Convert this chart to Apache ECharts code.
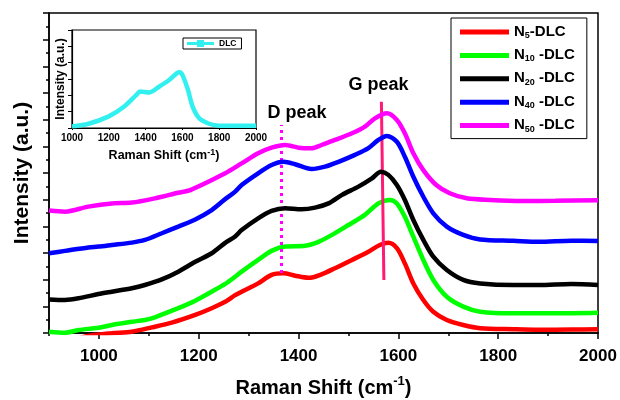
<!DOCTYPE html>
<html>
<head>
<meta charset="utf-8">
<script src="https://cdn.jsdelivr.net/npm/echarts@6/dist/echarts.min.js"></script>
<style>
  html, body { margin: 0; padding: 0; background: #fff; }
  #chart { width: 620px; height: 400px; }
</style>
</head>
<body>
<div id="chart"></div>
<script>
const FONT = '"Liberation Sans", Arial, Helvetica, sans-serif';

// Raman spectra, [shift (cm-1), intensity (a.u.)], curves stacked with offsets
const seriesNames = ['N5-DLC', 'N10-DLC', 'N20-DLC', 'N40-DLC', 'N50-DLC'];
const subscripts = ['5', '10', '20', '40', '50'];
const colors = ['#ff0000', '#00ff00', '#000000', '#0000ff', '#ff00ff'];

const n5 = [[900,-40],[940,-28],[979,-11],[1026,-1],[1066,5],[1106,21],[1146,39],[1193,68],[1226,93],[1253,117],[1273,142],[1286,155],[1319,186],[1346,218],[1370,224],[1393,215],[1420,207],[1446,220],[1473,243],[1507,274],[1540,305],[1563,330],[1580,338],[1597,318],[1613,261],[1630,186],[1650,124],[1670,80],[1697,49],[1730,30],[1764,18],[1830,14],[1881,12],[1947,13],[2000,14]];
const n10 = [[900,5],[932,1],[959,11],[999,20],[1026,30],[1066,42],[1092,49],[1112,59],[1159,93],[1193,121],[1226,155],[1253,184],[1273,211],[1286,230],[1319,274],[1346,308],[1373,324],[1413,327],[1440,342],[1467,368],[1500,405],[1533,443],[1560,486],[1583,499],[1597,486],[1613,436],[1630,361],[1650,274],[1670,199],[1697,136],[1730,99],[1764,80],[1830,74],[1914,74],[2000,76]];
const n20 = [[900,126],[932,124],[959,130],[999,146],[1026,155],[1066,168],[1092,180],[1126,201],[1159,230],[1193,267],[1226,299],[1253,338],[1273,362],[1286,386],[1319,430],[1346,458],[1373,468],[1406,464],[1433,470],[1460,486],[1487,518],[1520,549],[1547,580],[1565,605],[1580,593],[1597,555],[1613,499],[1630,424],[1650,349],[1670,286],[1697,236],[1730,199],[1764,186],[1830,180],[1881,180],[1947,184],[2000,180]];
const n40 = [[900,299],[932,308],[979,321],[999,324],[1026,330],[1066,339],[1092,349],[1126,374],[1159,399],[1193,426],[1226,461],[1253,502],[1273,530],[1286,555],[1319,599],[1346,630],[1370,642],[1393,633],[1426,615],[1453,624],[1480,642],[1513,668],[1540,693],[1560,724],[1577,739],[1597,717],[1613,661],[1630,586],[1650,511],[1670,449],[1697,399],[1730,368],[1764,351],[1830,346],[1881,342],[1947,346],[2000,345]];
const n50 = [[900,459],[932,455],[979,474],[1026,486],[1066,489],[1112,505],[1159,526],[1183,536],[1253,599],[1286,636],[1319,674],[1346,695],[1373,705],[1400,695],[1426,693],[1446,705],[1473,724],[1507,749],[1533,774],[1553,805],[1577,824],[1597,799],[1613,749],[1630,674],[1650,611],[1676,555],[1703,524],[1737,505],[1784,499],[1847,495],[1914,496],[2000,498]];
const spectra = [n5, n10, n20, n40, n50];

// Inset: undoped DLC spectrum
const insetName = 'DLC';
const insetDLC = [[1000,0.10],[1090,0.26],[1200,0.71],[1280,1.28],[1350,2.03],[1370,2.24],[1420,2.18],[1475,2.54],[1530,2.95],[1570,3.36],[1585,3.42],[1600,3.25],[1630,2.34],[1655,1.32],[1690,0.61],[1745,0.26],[1800,0.14],[2000,0.14]];

// Peak markers
const dPeakLine = [[1366,225],[1366,780]];
const gPeakLine = [[1566,867],[1571,199]];
const peakLabels = [{ name: 'D peak', coord: [1397,825] }, { name: 'G peak', coord: [1560,930] }];

// Axis ticks
const xMinorTicks = [900,1000,1100,1200,1300,1400,1500,1600,1700,1800,1900,2000];
const xTickLabels = [1000,1200,1400,1600,1800,2000];
const insetXTickLabels = [1000,1200,1400,1600,1800,2000];

const chart = echarts.init(document.getElementById('chart'), null, { renderer: 'canvas' });

const bold = { fontFamily: FONT, fontWeight: 'bold', color: '#000' };
const axisLine = { show: true, lineStyle: { color: '#000', width: 1.5 } };
const plainNumber = v => String(v);

function legendText(name) {
  const i = seriesNames.indexOf(name);
  const sub = subscripts[i];
  return '{n|N}{s|' + sub + '}{n|' + (sub.length > 1 ? ' -DLC' : '-DLC') + '}';
}

const lineSeries = spectra.map((d, i) => ({
  name: seriesNames[i],
  type: 'line',
  xAxisIndex: 0,
  yAxisIndex: 0,
  data: d,
  showSymbol: false,
  smooth: 0.3,
  color: colors[i],
  lineStyle: { width: 4.5, color: colors[i] },
  z: 3 + i
}));

const option = {
  backgroundColor: '#fff',
  animation: false,
  grid: [
    { left: 49, top: 13, right: 22, bottom: 67, outerBoundsMode: 'none', show: true, borderColor: '#000', borderWidth: 1.5, backgroundColor: 'transparent' },
    { left: 72, top: 30, width: 184, height: 98, outerBoundsMode: 'none', show: true, borderColor: '#000', borderWidth: 1.2, backgroundColor: 'transparent' }
  ],
  xAxis: [
    {
      gridIndex: 0, type: 'value', min: 900, max: 2000, interval: 100,
      axisLine: axisLine,
      axisTick: { show: true, length: 3, customValues: xMinorTicks, lineStyle: { color: '#000', width: 1.5 } },
      axisLabel: { show: false },
      splitLine: { show: false },
      name: 'Raman Shift (cm{sup|-1})', nameLocation: 'middle', nameGap: 42,
      nameTextStyle: Object.assign({ fontSize: 20, lineHeight: 26, rich: { sup: Object.assign({ fontSize: 13, lineHeight: 13, verticalAlign: 'top' }, bold) } }, bold)
    },
    {
      gridIndex: 0, type: 'value', min: 900, max: 2000, interval: 100, position: 'bottom',
      axisLine: { show: false },
      axisTick: { show: true, length: 6, customValues: xTickLabels, lineStyle: { color: '#000', width: 1.5 } },
      axisLabel: Object.assign({ show: true, fontSize: 17, margin: 15, customValues: xTickLabels, formatter: plainNumber }, bold),
      splitLine: { show: false }
    },
    {
      gridIndex: 1, type: 'value', min: 1000, max: 2000, interval: 200,
      axisLine: { show: true, lineStyle: { color: '#000', width: 1.2 } },
      axisTick: { show: true, length: 2, lineStyle: { color: '#000', width: 1 } },
      axisLabel: Object.assign({ fontSize: 10, margin: 5, customValues: insetXTickLabels, formatter: plainNumber }, bold),
      splitLine: { show: false },
      name: 'Raman Shift (cm{sup|-1})', nameLocation: 'middle', nameGap: 20,
      nameTextStyle: Object.assign({ fontSize: 12.5, lineHeight: 16, rich: { sup: Object.assign({ fontSize: 9, lineHeight: 9, verticalAlign: 'top' }, bold) } }, bold)
    }
  ],
  yAxis: [
    {
      gridIndex: 0, type: 'value', min: 0, max: 1200, interval: 100,
      axisLine: axisLine,
      axisTick: { show: true, length: 6, lineStyle: { color: '#000', width: 1.5 } },
      minorTick: { show: true, splitNumber: 2, length: 3, lineStyle: { color: '#000', width: 1.5 } },
      axisLabel: { show: false },
      splitLine: { show: false },
      name: 'Intensity (a.u.)', nameLocation: 'middle', nameGap: 16,
      nameTextStyle: Object.assign({ fontSize: 21 }, bold)
    },
    {
      gridIndex: 1, type: 'value', min: 0, max: 6, interval: 1,
      axisLine: { show: true, lineStyle: { color: '#000', width: 1.2 } },
      axisTick: { show: true, length: 4, lineStyle: { color: '#000', width: 1 } },
      axisLabel: { show: false },
      splitLine: { show: false },
      name: 'Intensity (a.u.)', nameLocation: 'middle', nameGap: 5,
      nameTextStyle: Object.assign({ fontSize: 12 }, bold)
    }
  ],
  legend: [
    {
      data: seriesNames,
      orient: 'vertical', left: 451, top: 18,
      padding: [3, 12, 5, 9], itemGap: 4.4,
      itemWidth: 49, itemHeight: 5, icon: 'rect',
      borderColor: '#000', borderWidth: 1, backgroundColor: '#fff',
      selectedMode: false,
      formatter: legendText,
      textStyle: {
        rich: {
          n: Object.assign({ fontSize: 15, lineHeight: 16, verticalAlign: 'top' }, bold),
          s: Object.assign({ fontSize: 9, lineHeight: 9, verticalAlign: 'bottom', padding: [10, 0, 0, 0] }, bold)
        }
      }
    },
    {
      data: [insetName],
      orient: 'horizontal', left: 183, top: 38,
      padding: [1, 5, 1, 4],
      itemWidth: 27, itemHeight: 7,
      icon: 'path://M0 2 H10 V0 H17 V2 H27 V5 H17 V7 H10 V5 H0 Z',
      borderColor: '#000', borderWidth: 1, backgroundColor: '#fff',
      selectedMode: false,
      textStyle: Object.assign({ fontSize: 8.5 }, bold)
    }
  ],
  series: lineSeries.concat([
    {
      name: insetName,
      type: 'line',
      xAxisIndex: 2, yAxisIndex: 1,
      data: insetDLC,
      showSymbol: false,
      smooth: 0.3,
      color: '#33f0f0',
      lineStyle: { width: 4.5, color: '#33f0f0' },
      z: 3
    },
    {
      name: 'peaks',
      type: 'line',
      xAxisIndex: 0, yAxisIndex: 0,
      data: [],
      silent: true,
      z: 10,
      markLine: {
        silent: true,
        symbol: ['none', 'none'],
        label: { show: false },
        animation: false,
        data: [
          [{ coord: dPeakLine[0], lineStyle: { color: '#ff00ff', width: 3, type: [3, 4] } }, { coord: dPeakLine[1] }],
          [{ coord: gPeakLine[0], lineStyle: { color: '#ff1a75', width: 3, type: 'solid' } }, { coord: gPeakLine[1] }]
        ]
      },
      markPoint: {
        silent: true,
        symbol: 'circle',
        symbolSize: 1,
        itemStyle: { color: 'rgba(0,0,0,0)' },
        label: Object.assign({ show: true, position: 'inside', formatter: '{b}', fontSize: 18 }, bold),
        data: peakLabels
      }
    }
  ])
};

chart.setOption(option);
</script>
</body>
</html>
